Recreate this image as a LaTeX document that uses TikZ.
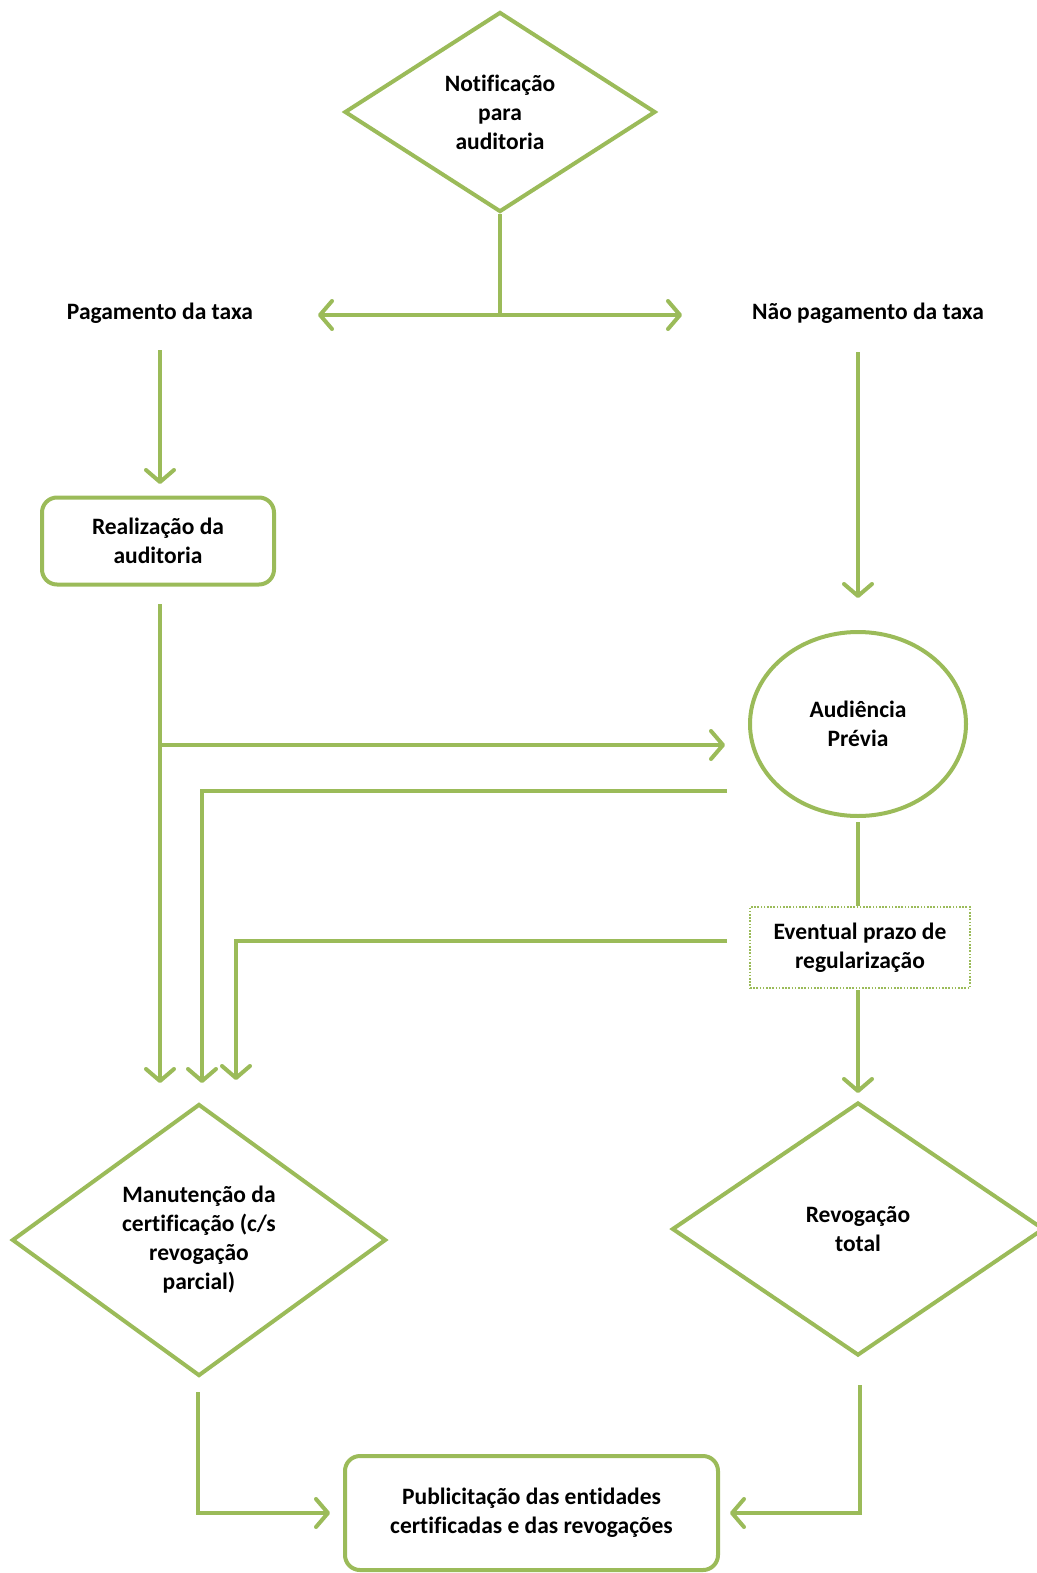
\documentclass[tikz,border=0pt]{standalone}
\usepackage{fontspec}
\setmainfont[Ligatures={NoCommon}]{Carlito}
\usetikzlibrary{shapes.geometric,arrows.meta}
\definecolor{lg}{HTML}{9BBB59}
\begin{document}
\begin{tikzpicture}[x=1pt,y=-1pt,
 every node/.style={font=\bfseries\fontsize{23.5}{29}\selectfont, align=center, text=black},
 ln/.style={draw=lg, line width=4pt},
 tip/.tip={Straight Barb[length=12pt,width=28pt,line cap=round,line join=round]},
 ar/.style={ln, -tip},
 dia/.style={shape=diamond, draw=lg, line width=4pt, inner sep=0pt},
 rbox/.style={draw=lg, line width=4pt, rounded corners=15pt},
]
\useasboundingbox (0,0) rectangle (1036,1573);
% nodes
\node[dia, minimum width=311pt, minimum height=200pt] (notif) at (500,112) {Notificação\\para\\auditoria};
\node (pag) at (160,313) {Pagamento da taxa};
\node (nao) at (868,313) {Não pagamento da taxa};
\node[rbox, minimum width=232pt, minimum height=87pt] (real) at (158,541) {Realização da\\auditoria};
\node[ellipse, draw=lg, line width=4pt, minimum width=216pt, minimum height=184pt] (aud) at (858,724) {Audiência\\Prévia};
\node[draw=lg, line width=2pt, dash pattern=on 1.6pt off 1.6pt, minimum width=220pt, minimum height=81pt] (prazo) at (860,947.5) {Eventual prazo de\\regularização};
\node[dia, minimum width=374pt, minimum height=272pt] (manut) at (199,1240) {Manutenção da\\certificação (c/s\\revogação\\parcial)};
\node[dia, minimum width=372pt, minimum height=253pt] (rev) at (858,1229) {Revogação\\total};
\node[rbox, minimum width=373pt, minimum height=114pt] (pub) at (531.5,1513) {Publicitação das entidades\\certificadas e das revogações};
% coordinates
\coordinate (mid) at (500,315);
\coordinate (pl) at (318,315);
\coordinate (pr) at (682,315);
\coordinate (pa1) at (160,350);
\coordinate (pa2) at (160,484);
\coordinate (na1) at (858,352);
\coordinate (na2) at (858,598);
\coordinate (r1) at (160,604);
\coordinate (r2) at (160,1083);
\coordinate (h1) at (160,745);
\coordinate (h2) at (725,745);
\coordinate (a1) at (727,791);
\coordinate (m2) at (202,1083);
\coordinate (au1) at (858,822);
\coordinate (au2) at (858,906);
\coordinate (p1) at (727,941);
\coordinate (m3) at (236,1080);
\coordinate (pz1) at (858,990);
\coordinate (pz2) at (858,1093);
\coordinate (b1) at (198,1392);
\coordinate (b2) at (330,1513);
\coordinate (c1) at (860,1385);
\coordinate (c2) at (730,1513);
% connectors
\draw[ln] (notif.south) -- (mid);
\draw[ln, tip-tip] (pl) -- (pr);
\draw[ar] (pa1) -- (pa2);
\draw[ar] (na1) -- (na2);
\draw[ar] (r1) -- (r2);
\draw[ar] (h1) -- (h2);
\draw[ar] (a1) -| (m2);
\draw[ln] (au1) -- (au2);
\draw[ar] (p1) -| (m3);
\draw[ar] (pz1) -- (pz2);
\draw[ar] (b1) |- (b2);
\draw[ar] (c1) |- (c2);
\end{tikzpicture}
\end{document}
